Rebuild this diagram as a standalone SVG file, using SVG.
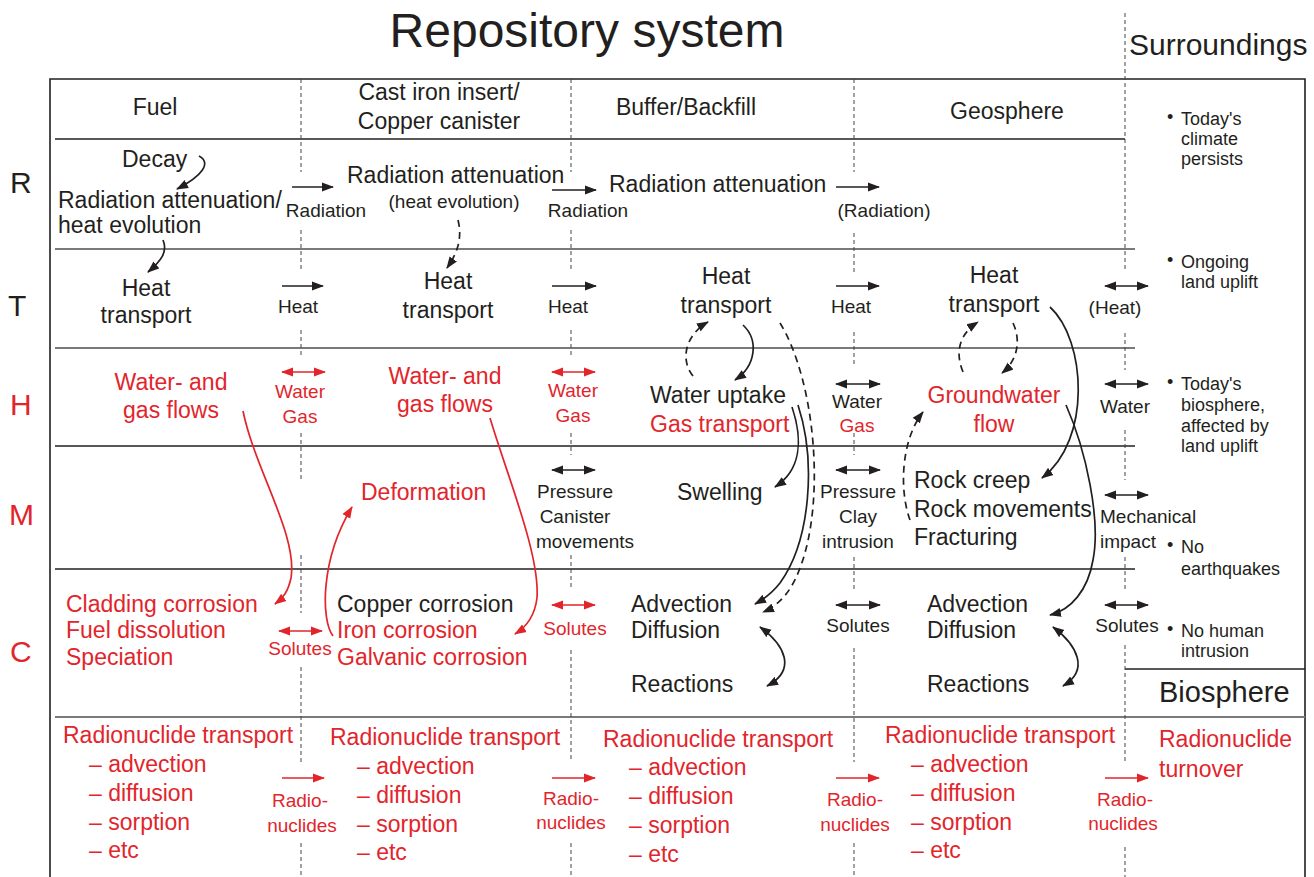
<svg xmlns="http://www.w3.org/2000/svg" width="1314" height="877" viewBox="0 0 1314 877">
<defs>
<style>
text{font-family:"Liberation Sans",Arial,Helvetica,sans-serif;fill:#231f20}
.m{font-size:23px}
.s{font-size:19px}
.b{font-size:18px}
.r{fill:#e2252b}
.c{text-anchor:middle}
.ln{stroke:#231f20;stroke-width:1.6;fill:none}
.gl{stroke:#7a7a7a;stroke-width:2;fill:none}
.dv{stroke:#444;stroke-width:1;stroke-dasharray:4 3;fill:none}
.k{stroke:#231f20;stroke-width:1.7;fill:none}
.kr{stroke:#e2252b;stroke-width:1.7;fill:none}
.kd{stroke-dasharray:7 5}
</style>
<marker id="ak" viewBox="0 0 12 10" refX="11" refY="5" markerWidth="12" markerHeight="10" markerUnits="userSpaceOnUse" orient="auto-start-reverse"><path d="M0,0.5 L12,5 L0,9.5 z" fill="#231f20"/></marker>
<marker id="ar" viewBox="0 0 12 10" refX="11" refY="5" markerWidth="12" markerHeight="10" markerUnits="userSpaceOnUse" orient="auto-start-reverse"><path d="M0,0.5 L12,5 L0,9.5 z" fill="#e2252b"/></marker>
</defs>
<rect width="1314" height="877" fill="#fff"/>

<g id="frame">
<path class="ln" d="M50,877 V79 H1305 V877" stroke-width="2"/>
<path class="ln" d="M55,139 H1125"/>
<path class="gl" d="M55,249 H1135"/>
<path class="gl" d="M55,348 H1135"/>
<path class="ln" d="M55,446 H1135"/>
<path class="ln" d="M55,569 H1135"/>
<path class="ln" d="M1125,669 H1305"/>
<path class="gl" d="M55,717 H1305"/>
<path class="dv" d="M301,79 V172 M301,230 V272 M301,330 V357 M301,433 V480 M301,555 V613 M301,667 V762 M301,843 V877"/>
<path class="dv" d="M571,79 V172 M571,230 V272 M571,330 V357 M571,433 V455 M571,555 V590 M571,650 V762 M571,843 V877"/>
<path class="dv" d="M854,79 V172 M854,233 V272 M854,332 V367 M854,433 V455 M854,557 V590 M854,648 V762 M854,843 V877"/>
<path class="dv" d="M1125,13 V270 M1125,333 V370 M1125,430 V480 M1125,557 V590 M1125,645 V762 M1125,847 V877"/>
</g>

<g id="title">
<text x="587" y="47" class="c" font-size="48">Repository system</text>
<text x="1129" y="55" font-size="30">Surroundings</text>
</g>

<g id="row-labels" font-size="30">
<text x="10" y="193" style="font-size:30px">R</text>
<text x="8" y="316" style="font-size:30px">T</text>
<text x="10" y="415" class="r" style="font-size:30px">H</text>
<text x="9" y="525" class="r" style="font-size:30px">M</text>
<text x="10" y="662" class="r" style="font-size:30px">C</text>
</g>

<g id="headers">
<text x="155" y="115" class="m c">Fuel</text>
<text x="439" y="100" class="m c">Cast iron insert/</text>
<text x="439" y="129" class="m c">Copper canister</text>
<text x="686" y="115" class="m c">Buffer/Backfill</text>
<text x="1007" y="119" class="m c">Geosphere</text>
</g>

<g id="surroundings">
<text x="1167" y="123" class="b">•</text>
<text x="1181" y="125" class="b">Today's</text>
<text x="1181" y="145" class="b">climate</text>
<text x="1181" y="165" class="b">persists</text>
<text x="1167" y="266" class="b">•</text>
<text x="1181" y="268" class="b">Ongoing</text>
<text x="1181" y="288" class="b">land uplift</text>
<text x="1167" y="388" class="b">•</text>
<text x="1181" y="390" class="b">Today's</text>
<text x="1181" y="411" class="b">biosphere,</text>
<text x="1181" y="432" class="b">affected by</text>
<text x="1181" y="452" class="b">land uplift</text>
<text x="1167" y="551" class="b">•</text>
<text x="1181" y="553" class="b">No</text>
<text x="1181" y="575" class="b">earthquakes</text>
<text x="1167" y="635" class="b">•</text>
<text x="1181" y="637" class="b">No human</text>
<text x="1181" y="657" class="b">intrusion</text>
</g>

<g id="biosphere">
<text x="1159" y="702" font-size="29">Biosphere</text>
<text x="1159" y="747" class="m r">Radionuclide</text>
<text x="1159" y="777" class="m r">turnover</text>
</g>

<g id="fuel-R">
<text x="122" y="167" class="m">Decay</text>
<text x="58" y="208" class="m">Radiation attenuation/</text>
<text x="58" y="233" class="m">heat evolution</text>
</g>
<g id="canister-R">
<text x="347" y="183" class="m">Radiation attenuation</text>
<text x="454" y="208" class="s c">(heat evolution)</text>
</g>
<g id="buffer-R"><text x="609" y="192" class="m">Radiation attenuation</text></g>
<g id="R-flows">
<text x="326" y="217" class="s c">Radiation</text>
<text x="588" y="217" class="s c">Radiation</text>
<text x="884" y="217" class="s c">(Radiation)</text>
</g>

<g id="fuel-T"><text x="146" y="296" class="m c">Heat</text><text x="146" y="323" class="m c">transport</text></g>
<g id="canister-T"><text x="448" y="289" class="m c">Heat</text><text x="448" y="318" class="m c">transport</text></g>
<g id="buffer-T"><text x="726" y="284" class="m c">Heat</text><text x="726" y="313" class="m c">transport</text></g>
<g id="geo-T"><text x="994" y="283" class="m c">Heat</text><text x="994" y="312" class="m c">transport</text></g>
<g id="T-flows">
<text x="298" y="313" class="s c">Heat</text>
<text x="568" y="313" class="s c">Heat</text>
<text x="851" y="313" class="s c">Heat</text>
<text x="1115" y="314" class="s c">(Heat)</text>
</g>

<g id="fuel-H"><text x="171" y="390" class="m c r">Water- and</text><text x="171" y="418" class="m c r">gas flows</text></g>
<g id="canister-H"><text x="445" y="384" class="m c r">Water- and</text><text x="445" y="412" class="m c r">gas flows</text></g>
<g id="buffer-H"><text x="650" y="403" class="m">Water uptake</text><text x="650" y="432" class="m r">Gas transport</text></g>
<g id="geo-H"><text x="994" y="403" class="m c r">Groundwater</text><text x="994" y="432" class="m c r">flow</text></g>
<g id="H-flows">
<text x="300" y="398" class="s c r">Water</text><text x="300" y="423" class="s c r">Gas</text>
<text x="573" y="397" class="s c r">Water</text><text x="573" y="422" class="s c r">Gas</text>
<text x="857" y="408" class="s c">Water</text><text x="857" y="432" class="s c r">Gas</text>
<text x="1125" y="413" class="s c">Water</text>
</g>

<g id="canister-M"><text x="361" y="500" class="m r">Deformation</text></g>
<g id="buffer-M"><text x="677" y="500" class="m">Swelling</text></g>
<g id="geo-M">
<text x="914" y="488" class="m">Rock creep</text>
<text x="914" y="517" class="m">Rock movements</text>
<text x="914" y="545" class="m">Fracturing</text>
</g>
<g id="M-flows">
<text x="575" y="498" class="s c">Pressure</text><text x="575" y="523" class="s c">Canister</text><text x="585" y="548" class="s c">movements</text>
<text x="858" y="498" class="s c">Pressure</text><text x="858" y="523" class="s c">Clay</text><text x="858" y="548" class="s c">intrusion</text>
<text x="1100" y="523" class="s">Mechanical</text><text x="1100" y="548" class="s">impact</text>
</g>

<g id="fuel-C">
<text x="66" y="612" class="m r">Cladding corrosion</text>
<text x="66" y="638" class="m r">Fuel dissolution</text>
<text x="66" y="665" class="m r">Speciation</text>
</g>
<g id="canister-C">
<text x="337" y="612" class="m">Copper corrosion</text>
<text x="337" y="638" class="m r">Iron corrosion</text>
<text x="337" y="665" class="m r">Galvanic corrosion</text>
</g>
<g id="buffer-C">
<text x="631" y="612" class="m">Advection</text>
<text x="631" y="638" class="m">Diffusion</text>
<text x="631" y="692" class="m">Reactions</text>
</g>
<g id="geo-C">
<text x="927" y="612" class="m">Advection</text>
<text x="927" y="638" class="m">Diffusion</text>
<text x="927" y="692" class="m">Reactions</text>
</g>
<g id="C-flows">
<text x="300" y="655" class="s c r">Solutes</text>
<text x="575" y="635" class="s c r">Solutes</text>
<text x="858" y="632" class="s c">Solutes</text>
<text x="1127" y="632" class="s c">Solutes</text>
</g>

<g id="fuel-RN">
<text x="63" y="743" class="m r">Radionuclide transport</text>
<text x="89" y="772" class="m r">– advection</text>
<text x="89" y="801" class="m r">– diffusion</text>
<text x="89" y="830" class="m r">– sorption</text>
<text x="89" y="858" class="m r">– etc</text>
</g>
<g id="canister-RN">
<text x="330" y="745" class="m r">Radionuclide transport</text>
<text x="357" y="774" class="m r">– advection</text>
<text x="357" y="803" class="m r">– diffusion</text>
<text x="357" y="832" class="m r">– sorption</text>
<text x="357" y="860" class="m r">– etc</text>
</g>
<g id="buffer-RN">
<text x="603" y="747" class="m r">Radionuclide transport</text>
<text x="629" y="775" class="m r">– advection</text>
<text x="629" y="804" class="m r">– diffusion</text>
<text x="629" y="833" class="m r">– sorption</text>
<text x="629" y="862" class="m r">– etc</text>
</g>
<g id="geo-RN">
<text x="885" y="743" class="m r">Radionuclide transport</text>
<text x="911" y="772" class="m r">– advection</text>
<text x="911" y="801" class="m r">– diffusion</text>
<text x="911" y="830" class="m r">– sorption</text>
<text x="911" y="858" class="m r">– etc</text>
</g>
<g id="RN-flows">
<text x="300" y="807" class="s c r">Radio-</text><text x="302" y="832" class="s c r">nuclides</text>
<text x="571" y="805" class="s c r">Radio-</text><text x="571" y="829" class="s c r">nuclides</text>
<text x="855" y="806" class="s c r">Radio-</text><text x="855" y="831" class="s c r">nuclides</text>
<text x="1125" y="806" class="s c r">Radio-</text><text x="1123" y="830" class="s c r">nuclides</text>
</g>

<g id="connectors">
<!-- R row -->
<path class="k" d="M292,187 H333" marker-end="url(#ak)"/>
<path class="k" d="M552,190 H596" marker-end="url(#ak)"/>
<path class="k" d="M836,187 H879" marker-end="url(#ak)"/>
<path class="k" d="M199,156 C212,163 202,176 177,189" marker-end="url(#ak)"/>
<path class="k" d="M163,240 C168,252 161,261 148,272" marker-end="url(#ak)"/>
<path class="k kd" d="M458,220 C463,240 456,255 447,268" marker-end="url(#ak)"/>
<!-- T row -->
<path class="k" d="M282,286 H323" marker-end="url(#ak)"/>
<path class="k" d="M552,286 H596" marker-end="url(#ak)"/>
<path class="k" d="M836,286 H879" marker-end="url(#ak)"/>
<path class="k" d="M1105,286 H1148" marker-start="url(#ak)" marker-end="url(#ak)"/>
<!-- H row -->
<path class="kr" d="M282,372 H325" marker-start="url(#ar)" marker-end="url(#ar)"/>
<path class="kr" d="M552,372 H595" marker-start="url(#ar)" marker-end="url(#ar)"/>
<path class="k" d="M836,384 H880" marker-start="url(#ak)" marker-end="url(#ak)"/>
<path class="k" d="M1105,384 H1148" marker-start="url(#ak)" marker-end="url(#ak)"/>
<!-- M row -->
<path class="k" d="M552,470 H595" marker-start="url(#ak)" marker-end="url(#ak)"/>
<path class="k" d="M836,470 H880" marker-start="url(#ak)" marker-end="url(#ak)"/>
<path class="k" d="M1105,495 H1148" marker-start="url(#ak)" marker-end="url(#ak)"/>
<!-- C row -->
<path class="kr" d="M279,631 H322" marker-start="url(#ar)" marker-end="url(#ar)"/>
<path class="kr" d="M552,605 H595" marker-start="url(#ar)" marker-end="url(#ar)"/>
<path class="k" d="M836,605 H880" marker-start="url(#ak)" marker-end="url(#ak)"/>
<path class="k" d="M1105,605 H1148" marker-start="url(#ak)" marker-end="url(#ak)"/>
<!-- RN row -->
<path class="kr" d="M282,778 H324" marker-end="url(#ar)"/>
<path class="kr" d="M552,778 H595" marker-end="url(#ar)"/>
<path class="kr" d="M836,778 H879" marker-end="url(#ar)"/>
<path class="kr" d="M1105,778 H1148" marker-end="url(#ar)"/>
<!-- red curves -->
<path class="kr" d="M243,411 C255,470 298,535 291,578 C288,592 283,598 275,604" marker-end="url(#ar)"/>
<path class="kr" d="M333,636 C321,620 320,560 352,507" marker-end="url(#ar)"/>
<path class="kr" d="M490,418 C508,478 540,555 537,598 C535,614 528,626 515,634" marker-end="url(#ar)"/>
<!-- buffer curves -->
<path class="k" d="M743,325 C759,340 756,366 735,380" marker-end="url(#ak)"/>
<path class="k kd" d="M693,376 C680,360 685,335 708,322" marker-end="url(#ak)"/>
<path class="k kd" d="M780,323 C815,380 826,500 800,568 C792,590 780,605 763,612" marker-end="url(#ak)"/>
<path class="k" d="M792,407 C803,440 801,470 775,487" marker-end="url(#ak)"/>
<path class="k" d="M798,405 C816,460 811,540 780,583 C773,592 766,598 755,604" marker-end="url(#ak)"/>
<path class="k" d="M760,627 C785,645 797,670 767,686" marker-start="url(#ak)" marker-end="url(#ak)"/>
<!-- geosphere curves -->
<path class="k kd" d="M963,372 C954,350 961,333 978,322" marker-end="url(#ak)"/>
<path class="k kd" d="M1013,323 C1021,340 1018,360 1002,373" marker-end="url(#ak)"/>
<path class="k" d="M1050,307 C1086,340 1092,440 1042,478" marker-end="url(#ak)"/>
<path class="k kd" d="M910,520 C899,490 901,440 923,412" marker-end="url(#ak)"/>
<path class="k" d="M1066,405 C1086,450 1101,520 1093,560 C1088,590 1071,610 1050,615" marker-end="url(#ak)"/>
<path class="k" d="M1053,627 C1077,645 1090,670 1063,686" marker-start="url(#ak)" marker-end="url(#ak)"/>
</g>
</svg>
